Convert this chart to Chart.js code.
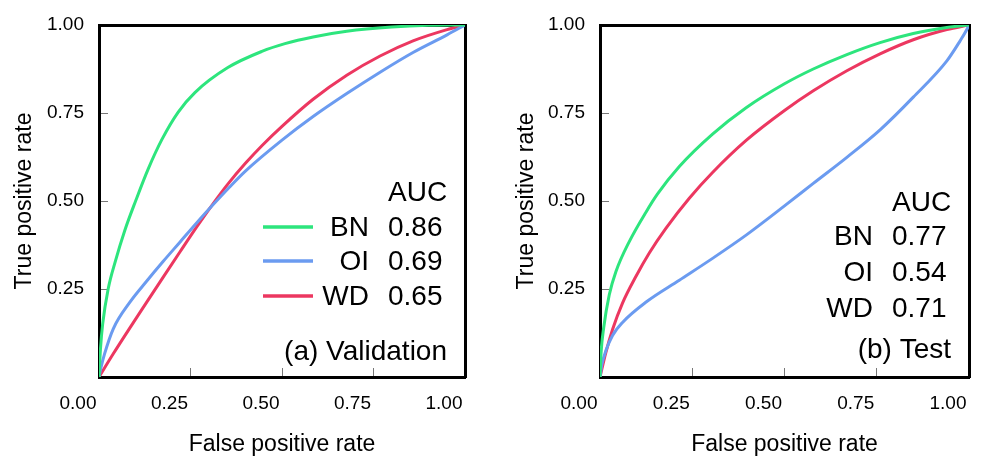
<!DOCTYPE html>
<html>
<head>
<meta charset="utf-8">
<script src="https://cdn.jsdelivr.net/npm/chart.js@4.4.0/dist/chart.umd.min.js"></script>
<style>
  html, body { margin: 0; padding: 0; background: #fff; }
  #wrap { position: relative; width: 981px; height: 456px; }
  .panel { position: absolute; top: 0; height: 456px; }
  #p1 { left: 0; width: 490px; }
  #p2 { left: 490px; width: 491px; }
</style>
</head>
<body>
<div id="wrap">
  <div class="panel" id="p1"><canvas id="valChart"></canvas></div>
  <div class="panel" id="p2"><canvas id="testChart"></canvas></div>
</div>
<script>
// ticks
const xTicks = [0, 0.25, 0.5, 0.75, 1];
const xTickLabels = ["0.00", "0.25", "0.50", "0.75", "1.00"];
const yTicks = [0.25, 0.5, 0.75, 1];
const yTickLabels = ["0.25", "0.50", "0.75", "1.00"];

const modelNames = ["BN", "OI", "WD"];
const modelColors = ["#2de57d", "#6b9bf0", "#ec3760"];

// (a) Validation
const valBN_fpr = [0, 0.004, 0.01, 0.025, 0.045, 0.07, 0.1, 0.134, 0.172, 0.216, 0.262, 0.352, 0.445, 0.508, 0.585, 0.677, 0.8, 0.9, 1];
const valBN_tpr = [0, 0.08, 0.15, 0.25, 0.33, 0.415, 0.5, 0.59, 0.675, 0.752, 0.808, 0.879, 0.925, 0.947, 0.966, 0.982, 0.994, 0.999, 1];
const valOI_fpr = [0, 0.005, 0.015, 0.039, 0.084, 0.13, 0.175, 0.221, 0.266, 0.312, 0.357, 0.4, 0.5, 0.585, 0.678, 0.768, 0.858, 0.951, 1];
const valOI_tpr = [0, 0.025, 0.065, 0.137, 0.212, 0.272, 0.328, 0.383, 0.437, 0.49, 0.54, 0.585, 0.673, 0.74, 0.806, 0.866, 0.922, 0.972, 1];
const valWD_fpr = [0, 0.039, 0.084, 0.13, 0.175, 0.221, 0.266, 0.31, 0.352, 0.4, 0.445, 0.5, 0.585, 0.678, 0.768, 0.858, 0.951, 1];
const valWD_tpr = [0, 0.066, 0.139, 0.212, 0.283, 0.355, 0.425, 0.49, 0.548, 0.607, 0.657, 0.712, 0.789, 0.858, 0.912, 0.955, 0.987, 1];
const valAUC = ["0.86", "0.69", "0.65"];

// (b) Test
const testBN_fpr = [0, 0.003, 0.01, 0.025, 0.043, 0.079, 0.125, 0.156, 0.215, 0.305, 0.396, 0.5, 0.578, 0.669, 0.759, 0.849, 0.94, 1];
const testBN_tpr = [0, 0.07, 0.14, 0.233, 0.299, 0.384, 0.469, 0.52, 0.598, 0.69, 0.765, 0.833, 0.875, 0.916, 0.95, 0.976, 0.993, 1];
const testOI_fpr = [0, 0.005, 0.016, 0.034, 0.061, 0.125, 0.215, 0.305, 0.396, 0.5, 0.578, 0.669, 0.759, 0.849, 0.94, 0.976, 0.993, 1];
const testOI_tpr = [0, 0.035, 0.075, 0.118, 0.155, 0.213, 0.275, 0.337, 0.403, 0.486, 0.55, 0.624, 0.702, 0.795, 0.898, 0.955, 0.985, 1];
const testWD_fpr = [0, 0.016, 0.034, 0.061, 0.098, 0.134, 0.179, 0.242, 0.305, 0.396, 0.5, 0.578, 0.669, 0.759, 0.849, 0.94, 1];
const testWD_tpr = [0, 0.07, 0.135, 0.21, 0.287, 0.353, 0.423, 0.508, 0.581, 0.672, 0.757, 0.813, 0.87, 0.918, 0.958, 0.987, 1];
const testAUC = ["0.77", "0.54", "0.71"];

const FONT = "'Liberation Sans', Arial, Helvetica, sans-serif";

// AUC table + panel caption drawn inside the plot area
const aucTable = {
  id: "aucTable",
  afterDraw(chart, args, o) {
    const { ctx, chartArea: a } = chart;
    ctx.save();
    ctx.font = "28px " + FONT;
    ctx.fillStyle = "#000";
    ctx.textBaseline = "middle";
    const valX = a.right - 77;
    const nameX = a.right - 96;
    ctx.textAlign = "left";
    ctx.fillText("AUC", valX, a.bottom - o.headY);
    o.rowsY.forEach((dy, i) => {
      const y = a.bottom - dy;
      ctx.textAlign = "right";
      ctx.fillText(modelNames[i], nameX, y);
      ctx.textAlign = "left";
      ctx.fillText(o.auc[i], valX, y);
      if (o.swatch) {
        ctx.strokeStyle = modelColors[i];
        ctx.lineWidth = 3.5;
        ctx.beginPath();
        ctx.moveTo(a.left + 164, y - 1);
        ctx.lineTo(a.left + 214, y - 1);
        ctx.stroke();
      }
    });
    ctx.textAlign = "right";
    ctx.fillText(o.caption, a.right - 18, a.bottom - o.capY);
    ctx.restore();
  }
};

function pts(xs, ys) {
  return xs.map((x, i) => ({ x: x, y: ys[i] }));
}

// label overflow should not push the plot area around
function noPad(s) {
  s.paddingTop = 0; s.paddingBottom = 0; s.paddingLeft = 0; s.paddingRight = 0;
}

function makeChart(id, series, cfg) {
  const datasets = series.map((s, i) => ({
    label: modelNames[i],
    data: pts(s[0], s[1]),
    borderColor: modelColors[i],
    borderWidth: 3,
    pointRadius: 0,
    fill: false,
    cubicInterpolationMode: "monotone"
  }));
  const tickFont = { size: 19, family: FONT };
  const titleFont = { size: 23, family: FONT, lineHeight: 1 };
  const grid = { drawOnChartArea: false, drawTicks: true, tickLength: -9, color: "#777", lineWidth: 1 };
  const border = { display: true, color: "#000", width: 3 };
  return new Chart(document.getElementById(id), {
    type: "line",
    data: { datasets: datasets },
    plugins: [aucTable],
    options: {
      responsive: true,
      maintainAspectRatio: false,
      animation: false,
      layout: { padding: { left: 0, right: cfg.padRight, top: 25, bottom: 0 } },
      plugins: {
        legend: { display: false },
        tooltip: { enabled: false },
        aucTable: cfg.table
      },
      scales: {
        x: {
          type: "linear", position: "bottom", min: 0, max: 1,
          afterBuildTicks: s => { s.ticks = xTicks.map(v => ({ value: v })); },
          afterFit: s => { s.height = 79; noPad(s); },
          ticks: { padding: 24, labelOffset: -21, color: "#000", font: tickFont, maxRotation: 0,
                   callback: (v, i) => xTickLabels[i] },
          grid: grid,
          border: border,
          title: { display: true, text: "False positive rate", color: "#000", font: titleFont,
                   padding: { top: 0, bottom: 0 } }
        },
        y: {
          type: "linear", position: "left", min: 0, max: 1,
          afterBuildTicks: s => { s.ticks = yTicks.map(v => ({ value: v })); },
          afterFit: s => { s.width = cfg.yWidth; noPad(s); },
          ticks: { padding: 24, color: "#000", font: tickFont, callback: (v, i) => yTickLabels[i] },
          grid: grid,
          border: border,
          title: { display: true, text: "True positive rate", color: "#000", font: titleFont,
                   padding: { top: cfg.yTitlePad, bottom: 0 } }
        },
        x2: {
          type: "linear", position: "top", min: 0, max: 1,
          afterFit: s => { s.height = 0; noPad(s); },
          ticks: { display: false },
          grid: { display: false },
          border: border
        },
        y2: {
          type: "linear", position: "right", min: 0, max: 1,
          afterFit: s => { s.width = 0; noPad(s); },
          ticks: { display: false },
          grid: { display: false },
          border: border
        }
      }
    }
  });
}

makeChart("valChart",
  [[valBN_fpr, valBN_tpr], [valOI_fpr, valOI_tpr], [valWD_fpr, valWD_tpr]],
  {
    padRight: 25, yWidth: 99, yTitlePad: 13.5,
    table: { auc: valAUC, headY: 184, rowsY: [149, 115, 80], capY: 25, caption: "(a) Validation", swatch: true }
  });

makeChart("testChart",
  [[testBN_fpr, testBN_tpr], [testOI_fpr, testOI_tpr], [testWD_fpr, testWD_tpr]],
  {
    padRight: 12, yWidth: 110, yTitlePad: 25.5,
    table: { auc: testAUC, headY: 174, rowsY: [140, 104, 68], capY: 27, caption: "(b) Test", swatch: false }
  });
</script>
</body>
</html>
